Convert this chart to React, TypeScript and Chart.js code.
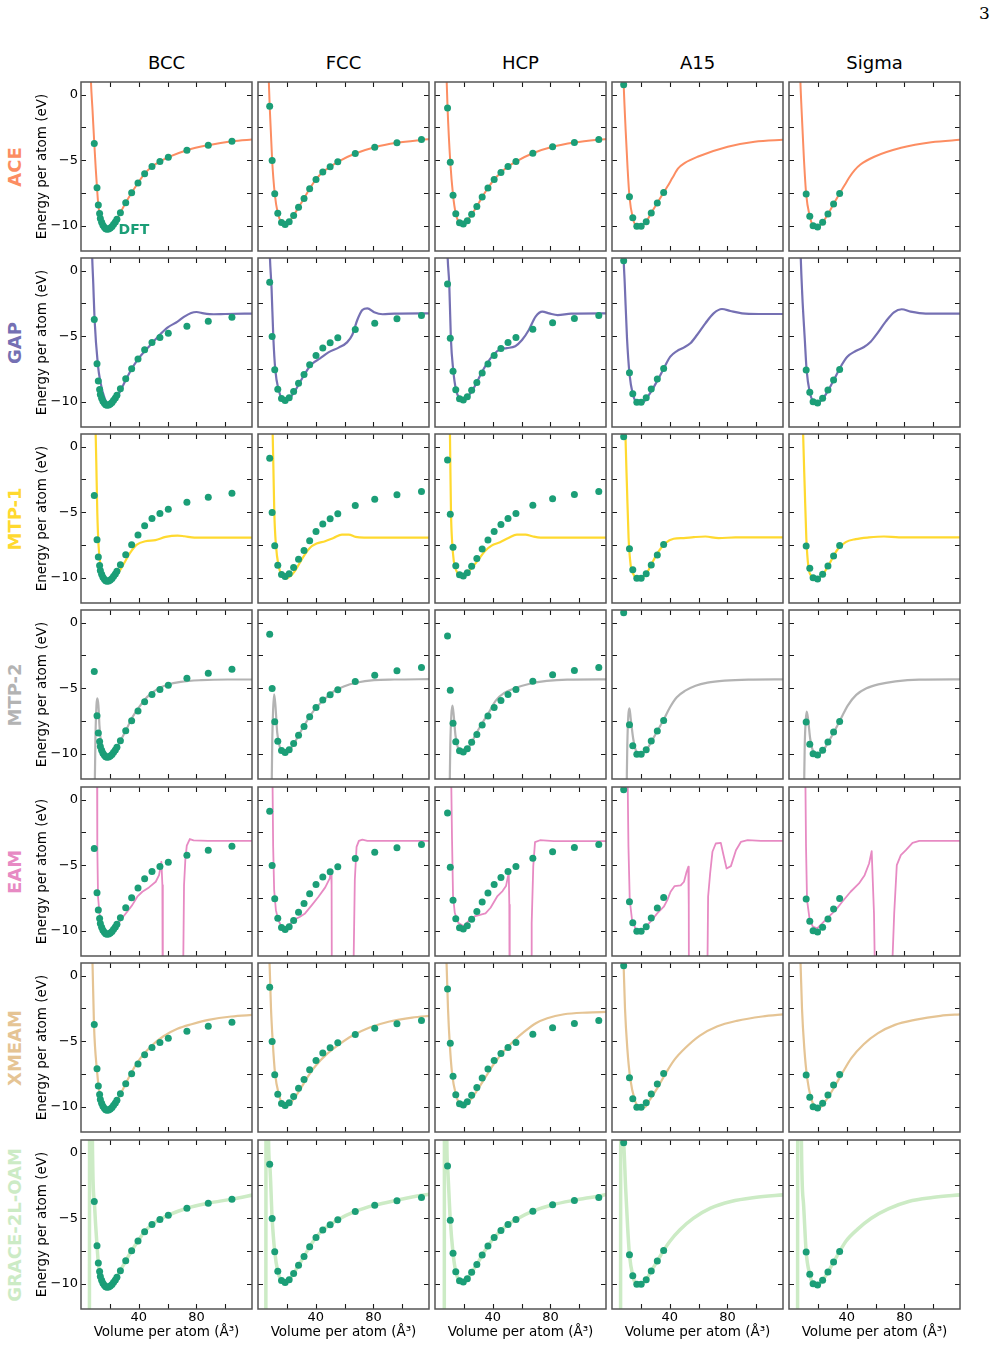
import React, { useEffect, useRef } from 'react';
import { Chart, registerables } from 'chart.js';

Chart.register(...registerables);
Chart.defaults.font.family = "'DejaVu Sans', sans-serif";

type Pt = [number, number];

// Columns: crystal structures; rows: interatomic potentials
const STRUCTURES = ['BCC', 'FCC', 'HCP', 'A15', 'Sigma'];
const MODELS = ['ACE', 'GAP', 'MTP-1', 'MTP-2', 'EAM', 'XMEAM', 'GRACE-2L-OAM'];
const MODEL_COLORS = ['#fc8d62', '#7570b3', '#ffd92f', '#b3b3b3', '#e78ac3', '#e5c494', '#ccebc5'];
const MODEL_LINE_WIDTHS = [2, 2.2, 2.2, 2.2, 1.8, 2.2, 3.5];
const MODEL_SMOOTH = [true, true, true, true, false, true, true];
const DFT_COLOR = '#1b9e77';

// Axis ranges and ticks
const X_MIN = 0;
const X_MAX = 118.5;
const Y_MIN = -11.9;
const Y_MAX = 0.96;
const X_TICKS = [20, 40, 60, 80, 100];
const X_LABELED = [40, 80];
const Y_TICKS = [-10, -7.5, -5, -2.5, 0];
const Y_LABELED = [-10, -5, 0];

// DFT reference energy-volume points: [volume (Å³), energy (eV/atom)]
const DFT_BCC: Pt[] = [
  [9.2, -3.72], [11.1, -7.09], [12.0, -8.4], [12.9, -9.04], [13.4, -9.42], [14.3, -9.72],
  [15.2, -9.95], [16.2, -10.1], [17.1, -10.2], [18.0, -10.25], [19.2, -10.23], [20.3, -10.15],
  [21.5, -10.03], [22.6, -9.87], [23.8, -9.7], [24.9, -9.49], [27.3, -8.98], [31.0, -8.23],
  [35.1, -7.47], [39.5, -6.73], [44.1, -6.02], [49.2, -5.47], [54.7, -5.09], [60.5, -4.76],
  [73.4, -4.23], [88.2, -3.85], [104.6, -3.54],
];
const DFT_FCC: Pt[] = [
  [8.1, -0.88], [9.8, -5.01], [11.6, -7.54], [13.7, -9.03], [16.3, -9.74], [18.8, -9.89],
  [21.6, -9.67], [24.7, -9.19], [28.1, -8.58], [31.9, -7.9], [35.8, -7.16], [40.2, -6.45],
  [44.9, -5.89], [50.0, -5.49], [55.3, -5.11], [67.4, -4.48], [80.9, -4.0], [96.3, -3.67],
  [113.3, -3.42],
];
const DFT_HCP: Pt[] = [
  [8.7, -1.01], [10.6, -5.14], [12.5, -7.65], [14.4, -9.06], [17.0, -9.75], [19.6, -9.85],
  [22.4, -9.59], [25.4, -9.11], [29.0, -8.51], [32.7, -7.8], [36.7, -7.11], [41.0, -6.46],
  [45.7, -5.92], [50.6, -5.47], [56.1, -5.09], [67.8, -4.46], [81.5, -3.97], [96.6, -3.65],
  [113.5, -3.42],
];
const DFT_A15: Pt[] = [
  [8.1, 0.76], [12.1, -7.77], [14.4, -9.37], [17.2, -10.02], [20.2, -10.02], [23.7, -9.67],
  [27.2, -9.01], [31.4, -8.25], [35.8, -7.44],
];
const DFT_SIGMA: Pt[] = [
  [11.9, -7.57], [14.4, -9.26], [16.7, -9.97], [19.8, -10.07], [23.3, -9.72], [27.0, -9.09],
  [30.9, -8.33], [35.1, -7.52],
];

// ACE
const ACE_BCC: Pt[] = [
  [6.4, 3.0], [6.9, 1.0], [8.0, -1.2], [9.2, -3.7], [10.2, -5.6], [11.1, -7.1], [12.0, -8.4],
  [13.0, -9.1], [14.5, -9.72], [16.3, -10.1], [18.1, -10.25], [20.0, -10.18], [22.5, -9.9],
  [25.0, -9.45], [27.3, -8.98], [31.0, -8.23], [35.1, -7.47], [39.5, -6.73], [44.1, -6.02],
  [49.2, -5.47], [54.7, -5.09], [60.5, -4.76], [73.4, -4.23], [88.2, -3.85], [104.6, -3.55],
  [120, -3.4],
];
const ACE_FCC: Pt[] = [
  [7.0, 3.0], [7.5, 1.0], [8.1, -0.88], [9.8, -5.0], [11.6, -7.54], [13.7, -9.03], [16.3, -9.74],
  [18.8, -9.89], [21.6, -9.67], [24.7, -9.19], [28.1, -8.58], [31.9, -7.9], [35.8, -7.16],
  [40.2, -6.45], [44.9, -5.89], [50.0, -5.49], [55.3, -5.11], [67.4, -4.48], [80.9, -4.0],
  [96.3, -3.67], [113.3, -3.45], [120, -3.38],
];
const ACE_HCP: Pt[] = [
  [7.6, 3.0], [8.1, 1.0], [8.7, -1.01], [10.6, -5.14], [12.5, -7.65], [14.4, -9.06], [17.0, -9.75],
  [19.6, -9.85], [22.4, -9.59], [25.4, -9.11], [29.0, -8.51], [32.7, -7.8], [36.7, -7.11],
  [41.0, -6.46], [45.7, -5.92], [50.6, -5.47], [56.1, -5.09], [67.8, -4.46], [81.5, -3.97],
  [96.6, -3.65], [113.5, -3.43], [120, -3.37],
];
const ACE_A15: Pt[] = [
  [7.5, 3.0], [8.1, 0.76], [9.5, -2.8], [10.8, -5.6], [12.1, -7.77], [14.4, -9.37], [17.2, -10.02],
  [20.2, -10.02], [23.7, -9.67], [27.2, -9.01], [31.4, -8.25], [35.8, -7.44], [38.6, -6.96],
  [41.9, -6.33], [46.0, -5.6], [50.5, -5.2], [59.3, -4.73], [80.2, -3.97], [98.8, -3.59],
  [120, -3.43],
];
const ACE_SIGMA: Pt[] = [
  [7.4, 3.0], [7.9, 1.0], [9.0, -1.8], [10.3, -4.8], [11.9, -7.57], [14.4, -9.26], [16.7, -9.97],
  [19.8, -10.07], [23.3, -9.72], [27.0, -9.09], [30.9, -8.33], [35.1, -7.52], [38.5, -6.9],
  [41.6, -6.33], [45.5, -5.75], [49.5, -5.32], [59.1, -4.73], [77.7, -4.05], [98.6, -3.62],
  [120, -3.43],
];

// GAP
const GAP_BCC: Pt[] = [
  [7.3, 3.0], [7.7, 1.2], [8.5, -1.0], [9.4, -3.7], [11.7, -7.18], [13.4, -8.45], [16.4, -9.72],
  [19.5, -10.28], [22.3, -10.1], [25.8, -9.47], [29.3, -8.7], [34.0, -7.69], [39.9, -6.68],
  [47.0, -5.79], [54.0, -4.95], [59.9, -4.34], [66.9, -3.88], [71.6, -3.5], [76.3, -3.22],
  [80.0, -3.15], [85.0, -3.25], [92.0, -3.32], [100.0, -3.3], [120, -3.27],
];
const GAP_FCC: Pt[] = [
  [7.8, 3.0], [8.2, 1.2], [9.4, -1.35], [10.6, -5.03], [12.0, -7.56], [14.3, -9.09], [16.7, -9.77],
  [19.5, -9.92], [22.3, -9.67], [25.6, -9.16], [29.3, -8.45], [33.1, -7.74], [37.1, -7.13],
  [43.0, -6.68], [48.8, -6.22], [55.9, -5.86], [61.7, -5.46], [65.3, -4.9], [68.8, -3.76],
  [72.3, -3.0], [75.8, -2.87], [80.5, -3.17], [86.4, -3.32], [94.6, -3.27], [120, -3.25],
];
const GAP_HCP: Pt[] = [
  [8.3, 3.0], [8.7, 1.2], [9.9, -1.09], [11.0, -5.15], [12.7, -7.64], [14.6, -9.09], [16.9, -9.72],
  [19.7, -9.9], [22.8, -9.59], [26.3, -9.04], [29.8, -8.32], [33.3, -7.56], [36.9, -6.93],
  [40.8, -6.37], [45.1, -5.99], [49.8, -5.9], [55.6, -5.75], [60.3, -5.28], [65.0, -4.52],
  [69.7, -3.5], [74.4, -3.12], [79.1, -3.25], [85.0, -3.38], [94.4, -3.27], [120, -3.25],
];
const GAP_A15: Pt[] = [
  [7.8, 2.0], [8.1, 0.8], [8.8, -0.9], [10.4, -5.15], [12.2, -7.94], [14.3, -9.34], [17.3, -10.05],
  [20.8, -10.1], [23.6, -9.77], [27.7, -9.09], [32.3, -8.2], [36.5, -7.31], [40.4, -6.55],
  [45.0, -6.12], [49.7, -5.86], [54.3, -5.53], [58.9, -4.9], [64.7, -4.01], [70.4, -3.25],
  [76.2, -2.92], [82.0, -3.07], [90.1, -3.25], [101.6, -3.3], [120, -3.3],
];
const GAP_SIGMA: Pt[] = [
  [7.7, 3.0], [8.0, 1.5], [9.2, -1.85], [10.9, -5.15], [12.2, -7.56], [14.3, -9.21], [17.3, -9.97],
  [20.3, -10.03], [23.6, -9.72], [27.3, -9.09], [31.4, -8.25], [35.8, -7.31], [40.4, -6.55],
  [46.2, -6.12], [52.0, -5.81], [56.6, -5.41], [61.2, -4.77], [67.0, -3.88], [72.7, -3.17],
  [78.1, -2.94], [84.3, -3.12], [94.7, -3.27], [120, -3.27],
];

// MTP-1
const MTP1_BCC: Pt[] = [
  [9.8, 3.0], [10.1, 1.3], [10.6, -1.22], [11.3, -5.04], [12.2, -7.58], [13.6, -9.11],
  [15.7, -9.87], [18.8, -10.25], [22.3, -10.08], [25.8, -9.62], [29.3, -8.98], [34.0, -8.09],
  [38.7, -7.46], [44.6, -7.2], [51.6, -7.12], [58.7, -6.87], [66.9, -6.77], [71.6, -6.82],
  [78.6, -6.92], [92.7, -6.92], [120, -6.92],
];
const MTP1_FCC: Pt[] = [
  [9.8, 3.0], [10.1, 1.3], [10.6, -1.22], [11.3, -5.04], [12.4, -7.46], [14.3, -9.11],
  [16.7, -9.8], [19.5, -10.05], [22.3, -9.87], [25.4, -9.49], [28.9, -8.85], [32.4, -8.22],
  [35.9, -7.71], [40.6, -7.38], [46.5, -7.2], [52.3, -6.95], [58.2, -6.69], [62.9, -6.69],
  [67.6, -6.87], [73.5, -6.92], [120, -6.92],
];
const MTP1_HCP: Pt[] = [
  [10.1, 3.0], [10.3, 1.5], [10.7, -2.0], [11.1, -5.1], [11.9, -7.3], [13.0, -8.7], [14.6, -9.4],
  [17.0, -9.82], [19.6, -9.9], [22.4, -9.62], [26.8, -9.06], [31.0, -8.47], [34.5, -7.96],
  [39.2, -7.53], [45.1, -7.28], [50.9, -6.95], [56.8, -6.69], [62.7, -6.69], [67.4, -6.82],
  [73.2, -6.92], [120, -6.92],
];
const MTP1_A15: Pt[] = [
  [8.9, 3.0], [9.2, 1.3], [10.4, -3.16], [11.5, -6.96], [12.9, -8.99], [15.0, -9.75],
  [18.0, -10.13], [20.8, -10.0], [24.2, -9.62], [27.7, -8.86], [32.3, -7.97], [37.0, -7.34],
  [42.7, -7.01], [49.7, -6.96], [56.6, -6.89], [64.7, -6.84], [73.9, -6.96], [85.5, -6.91],
  [120, -6.91],
];
const MTP1_SIGMA: Pt[] = [
  [9.4, 3.0], [9.7, 1.3], [10.9, -3.16], [12.0, -6.96], [13.4, -9.11], [15.7, -9.87],
  [18.5, -10.13], [21.2, -9.95], [24.9, -9.49], [28.9, -8.73], [33.5, -7.85], [39.3, -7.27],
  [46.2, -7.04], [55.4, -6.91], [65.8, -6.84], [76.2, -6.91], [120, -6.91],
];

// MTP-2
const MTP2_BCC: Pt[] = [
  [9.3, -16], [9.6, -12.0], [10.0, -8.86], [10.7, -6.33], [11.3, -5.77], [12.1, -6.33],
  [12.8, -7.85], [13.9, -9.11], [15.8, -9.87], [18.1, -10.25], [20.9, -10.13], [23.9, -9.75],
  [27.4, -8.99], [31.6, -8.1], [35.5, -7.22], [40.1, -6.46], [45.9, -5.65], [52.9, -5.06],
  [59.9, -4.73], [69.1, -4.51], [83.1, -4.38], [101.6, -4.33], [120, -4.33],
];
const MTP2_FCC: Pt[] = [
  [9.3, -16], [9.6, -11.5], [9.9, -8.86], [10.5, -6.58], [11.2, -5.45], [12.1, -6.33],
  [13.3, -8.35], [15.2, -9.49], [17.5, -9.87], [20.3, -9.82], [24.0, -9.37], [28.0, -8.61],
  [31.9, -7.85], [36.1, -7.09], [40.8, -6.41], [46.6, -5.77], [52.4, -5.24], [59.4, -4.86],
  [68.8, -4.56], [80.4, -4.38], [94.4, -4.33], [120, -4.3],
];
const MTP2_HCP: Pt[] = [
  [10.0, -16], [10.3, -11.5], [10.6, -9.34], [11.3, -7.07], [12.1, -6.31], [13.0, -7.07],
  [14.2, -8.59], [16.1, -9.6], [18.9, -9.9], [22.0, -9.72], [25.5, -9.09], [29.1, -8.33],
  [33.1, -7.58], [37.4, -6.82], [42.1, -5.93], [48.0, -5.35], [55.1, -5.0], [65.7, -4.65],
  [77.5, -4.44], [91.7, -4.34], [120, -4.32],
];
const MTP2_A15: Pt[] = [
  [10.0, -16], [10.3, -11.5], [10.6, -9.34], [11.3, -7.07], [12.1, -6.52], [13.0, -7.32],
  [14.7, -8.84], [17.0, -9.85], [20.1, -10.05], [23.2, -9.8], [27.2, -9.09], [31.2, -8.28],
  [35.5, -7.45], [40.2, -6.44], [44.9, -5.68], [50.8, -5.18], [57.9, -4.8], [66.2, -4.57],
  [78.0, -4.42], [94.6, -4.34], [120, -4.32],
];
const MTP2_SIGMA: Pt[] = [
  [10.2, -16], [10.6, -11.5], [10.9, -9.34], [11.6, -7.45], [12.3, -6.77], [13.2, -7.32],
  [14.7, -8.84], [17.0, -9.85], [19.9, -10.05], [22.9, -9.85], [27.0, -9.14], [31.2, -8.33],
  [35.9, -7.32], [40.7, -6.31], [46.6, -5.5], [53.7, -5.0], [61.9, -4.7], [73.8, -4.47],
  [90.3, -4.34], [120, -4.32],
];

// EAM
const EAM_BCC: Pt[] = [
  [11.1, 3.0], [11.2, 1.0], [11.4, -3.59], [11.8, -7.39], [12.8, -8.66], [14.6, -9.54],
  [16.9, -10.05], [19.3, -10.23], [21.6, -10.13], [23.9, -9.8], [27.4, -9.16], [32.0, -8.53],
  [35.5, -8.03], [39.0, -7.39], [42.5, -7.01], [47.1, -6.68], [51.8, -6.25], [54.1, -5.75],
  [55.7, -4.73], [56.4, -6.5], [56.7, -20], [70.7, -20], [70.9, -12.0], [71.4, -6.5],
  [72.3, -4.6], [73.3, -3.5], [75.4, -3.0], [78.0, -3.1], [88.0, -3.14], [120, -3.14],
];
const EAM_FCC: Pt[] = [
  [10.0, 3.0], [10.1, 1.0], [10.5, -3.59], [11.2, -6.89], [12.4, -8.41], [14.0, -9.16],
  [16.3, -9.67], [18.6, -9.8], [22.1, -9.47], [25.6, -9.11], [29.1, -8.91], [32.6, -8.66],
  [37.3, -8.03], [41.9, -7.39], [46.6, -6.68], [49.7, -6.0], [50.6, -5.37], [51.0, -6.5],
  [51.3, -20], [66.0, -20], [66.3, -12.0], [67.1, -6.1], [68.3, -3.6], [69.9, -3.14],
  [72.3, -3.04], [75.8, -3.14], [120, -3.14],
];
const EAM_HCP: Pt[] = [
  [11.2, 3.0], [11.3, 1.0], [11.8, -3.04], [12.5, -7.34], [13.7, -8.61], [16.1, -9.37],
  [19.6, -9.62], [23.2, -9.24], [27.9, -8.86], [35.0, -8.66], [38.5, -8.23], [43.3, -7.34],
  [46.8, -6.96], [49.2, -6.58], [51.1, -5.57], [51.5, -8.0], [51.8, -20], [66.7, -20],
  [67.0, -9.4], [68.1, -5.06], [69.3, -3.24], [72.8, -3.09], [82.3, -3.16], [120, -3.16],
];
const EAM_A15: Pt[] = [
  [10.8, 3.0], [10.9, 1.0], [11.4, -3.59], [12.3, -7.65], [13.9, -9.16], [16.2, -9.8],
  [19.3, -9.92], [22.5, -9.8], [26.7, -9.29], [31.3, -8.66], [35.9, -8.15], [38.3, -7.65],
  [40.6, -7.01], [43.4, -6.58], [47.6, -6.53], [49.9, -6.25], [51.7, -5.49], [52.9, -5.11],
  [53.2, -8.0], [53.4, -20], [66.0, -20], [66.2, -12.0], [66.6, -7.39], [68.0, -5.62],
  [69.6, -3.97], [71.9, -3.34], [75.4, -3.29], [77.3, -4.23], [79.4, -5.24], [82.4, -5.06],
  [85.9, -3.85], [89.3, -3.22], [94.0, -3.09], [103.2, -3.14], [120, -3.14],
];
const EAM_SIGMA: Pt[] = [
  [11.3, 3.0], [11.4, 1.0], [11.8, -3.59], [12.5, -7.65], [14.2, -9.04], [16.5, -9.67],
  [19.5, -9.8], [23.0, -9.42], [27.6, -8.91], [32.3, -8.41], [36.9, -7.77], [42.7, -7.01],
  [48.5, -6.38], [52.4, -5.75], [55.5, -4.86], [57.3, -3.92], [58.9, -8.66], [59.4, -12.2],
  [59.6, -20], [71.5, -20], [71.7, -12.2], [72.9, -8.66], [74.7, -4.99], [77.5, -4.23],
  [81.0, -3.85], [85.6, -3.29], [90.3, -3.14], [100.7, -3.14], [120, -3.14],
];

// XMEAM
const XMEAM_BCC: Pt[] = [
  [7.6, 2.0], [7.9, 1.32], [9.0, -3.75], [11.0, -7.16], [13.0, -9.06], [14.9, -9.95],
  [17.7, -10.33], [20.8, -10.2], [24.7, -9.57], [29.5, -8.56], [35.3, -7.29], [41.2, -6.28],
  [49.1, -5.32], [56.9, -4.63], [66.8, -4.05], [76.6, -3.7], [88.4, -3.37], [104.1, -3.11],
  [120, -2.98],
];
const XMEAM_FCC: Pt[] = [
  [7.6, 2.0], [7.9, 1.32], [9.0, -2.48], [10.2, -5.01], [11.8, -7.42], [14.5, -9.06],
  [17.3, -9.77], [20.4, -9.82], [24.4, -9.44], [29.1, -8.68], [34.2, -7.75], [40.1, -6.84],
  [47.1, -6.03], [55.8, -5.27], [65.6, -4.56], [77.4, -3.95], [91.1, -3.49], [106.8, -3.19],
  [120, -3.05],
];
const XMEAM_HCP: Pt[] = [
  [7.6, 2.0], [7.9, 1.32], [9.0, -2.48], [10.2, -5.14], [11.8, -7.42], [14.5, -9.06],
  [17.7, -9.82], [20.8, -9.9], [24.7, -9.44], [29.5, -8.68], [34.6, -7.8], [40.5, -6.78],
  [47.1, -5.82], [54.2, -5.01], [62.1, -4.25], [69.9, -3.62], [77.8, -3.24], [89.5, -2.94],
  [105.3, -2.81], [120, -2.76],
];
const XMEAM_A15: Pt[] = [
  [7.6, 2.0], [7.9, 1.32], [9.0, -2.48], [10.6, -5.52], [12.6, -7.8], [15.7, -9.44],
  [18.9, -10.03], [22.4, -10.03], [26.3, -9.44], [31.4, -8.56], [37.3, -7.42], [43.2, -6.41],
  [51.1, -5.47], [60.9, -4.56], [72.7, -3.87], [86.4, -3.44], [104.1, -3.11], [120, -2.94],
];
const XMEAM_SIGMA: Pt[] = [
  [7.6, 2.0], [7.9, 1.32], [9.0, -2.48], [10.6, -5.52], [12.6, -7.8], [15.3, -9.32],
  [18.5, -10.0], [21.6, -10.03], [25.5, -9.52], [31.0, -8.56], [36.9, -7.42], [43.2, -6.28],
  [51.8, -5.22], [61.7, -4.38], [73.4, -3.75], [87.2, -3.37], [104.9, -3.06], [120, -2.94],
];

// GRACE-2L-OAM
const GRACE_BCC: Pt[] = [
  [5.8, -20], [6.1, 20], [7.4, 20], [7.9, 1.0], [9.2, -3.72], [10.2, -5.6], [11.1, -7.1],
  [12.0, -8.4], [13.0, -9.1], [14.5, -9.72], [16.3, -10.1], [18.1, -10.25], [20.0, -10.18],
  [22.5, -9.9], [25.0, -9.45], [27.3, -8.98], [31.0, -8.23], [35.1, -7.47], [39.5, -6.73],
  [44.1, -6.02], [49.2, -5.47], [54.7, -5.09], [60.5, -4.76], [73.4, -4.23], [88.2, -3.85],
  [104.6, -3.54], [120, -3.2],
];
const GRACE_FCC: Pt[] = [
  [5.4, -20], [5.7, 20], [6.8, 20], [7.3, 1.0], [8.1, -0.88], [9.8, -5.0], [11.6, -7.54],
  [13.7, -9.03], [16.3, -9.74], [18.8, -9.89], [21.6, -9.67], [24.7, -9.19], [28.1, -8.58],
  [31.9, -7.9], [35.8, -7.16], [40.2, -6.45], [44.9, -5.89], [50.0, -5.49], [55.3, -5.11],
  [67.4, -4.48], [80.9, -4.0], [96.3, -3.62], [113.3, -3.25], [120, -3.15],
];
const GRACE_HCP: Pt[] = [
  [6.4, -20], [6.7, 20], [7.7, 20], [8.2, 1.0], [8.7, -1.01], [10.6, -5.14], [12.5, -7.65],
  [14.4, -9.06], [17.0, -9.75], [19.6, -9.85], [22.4, -9.59], [25.4, -9.11], [29.0, -8.51],
  [32.7, -7.8], [36.7, -7.11], [41.0, -6.46], [45.7, -5.92], [50.6, -5.47], [56.1, -5.09],
  [67.8, -4.46], [81.5, -3.97], [96.6, -3.62], [113.5, -3.3], [120, -3.15],
];
const GRACE_A15: Pt[] = [
  [5.9, -20], [6.2, 20], [7.4, 20], [7.9, 1.5], [8.1, 0.76], [9.5, -2.8], [10.8, -5.6],
  [12.1, -7.77], [14.4, -9.37], [17.2, -10.02], [20.2, -10.02], [23.7, -9.67], [27.2, -9.01],
  [31.4, -8.25], [35.8, -7.44], [40.0, -6.76], [47.1, -5.87], [56.5, -4.99], [68.3, -4.23],
  [82.4, -3.72], [98.9, -3.42], [120, -3.2],
];
const GRACE_SIGMA: Pt[] = [
  [5.9, -20], [6.2, 20], [8.0, 20], [8.6, 1.0], [10.0, -3.8], [11.9, -7.57], [14.4, -9.26],
  [16.7, -9.97], [19.8, -10.07], [23.3, -9.72], [27.0, -9.09], [30.9, -8.33], [35.1, -7.52],
  [39.3, -6.76], [47.6, -5.82], [57.0, -4.99], [68.8, -4.28], [82.9, -3.72], [99.4, -3.42],
  [120, -3.2],
];

const DFT_SETS: Pt[][] = [DFT_BCC, DFT_FCC, DFT_HCP, DFT_A15, DFT_SIGMA];
const CURVES: Pt[][][] = [
  [ACE_BCC, ACE_FCC, ACE_HCP, ACE_A15, ACE_SIGMA],
  [GAP_BCC, GAP_FCC, GAP_HCP, GAP_A15, GAP_SIGMA],
  [MTP1_BCC, MTP1_FCC, MTP1_HCP, MTP1_A15, MTP1_SIGMA],
  [MTP2_BCC, MTP2_FCC, MTP2_HCP, MTP2_A15, MTP2_SIGMA],
  [EAM_BCC, EAM_FCC, EAM_HCP, EAM_A15, EAM_SIGMA],
  [XMEAM_BCC, XMEAM_FCC, XMEAM_HCP, XMEAM_A15, XMEAM_SIGMA],
  [GRACE_BCC, GRACE_FCC, GRACE_HCP, GRACE_A15, GRACE_SIGMA],
];

// Page layout (plot-area boxes in page pixels)
const COL_LEFT = [81, 258, 435, 612, 789];
const ROW_TOP = [82, 258, 434, 610, 787, 963, 1140];
const PLOT_W = 171;
const PLOT_H = 169;
const PAD = 12;
const AXIS_W = 50;
const AXIS_H = 36;
const TICK_LEN = 5;

const fmtNum = (v: number) => (v < 0 ? '\u2212' + Math.abs(v) : String(v));

// Boxed frame with inward tick marks on all four sides
const frameTicks = {
  id: 'frameTicks',
  afterDatasetsDraw(chart: any) {
    const { ctx, chartArea: a, scales } = chart;
    const xs = scales.x;
    const ys = scales.y;
    ctx.save();
    ctx.strokeStyle = '#1a1a1a';
    ctx.lineWidth = 1.1;
    ctx.beginPath();
    for (const t of xs.ticks) {
      const px = Math.round(xs.getPixelForValue(t.value)) + 0.5;
      ctx.moveTo(px, a.top);
      ctx.lineTo(px, a.top + TICK_LEN);
      ctx.moveTo(px, a.bottom);
      ctx.lineTo(px, a.bottom - TICK_LEN);
    }
    for (const t of ys.ticks) {
      const py = Math.round(ys.getPixelForValue(t.value)) + 0.5;
      ctx.moveTo(a.left, py);
      ctx.lineTo(a.left + TICK_LEN, py);
      ctx.moveTo(a.right, py);
      ctx.lineTo(a.right - TICK_LEN, py);
    }
    ctx.stroke();
    ctx.strokeStyle = '#555555';
    ctx.lineWidth = 1.5;
    ctx.strokeRect(a.left, a.top, a.right - a.left, a.bottom - a.top);
    ctx.restore();
  },
};

// In-plot text annotation placed in data coordinates
const dataLabel = {
  id: 'dataLabel',
  afterDatasetsDraw(chart: any, _args: any, opts: any) {
    if (!opts || !opts.text) return;
    const { ctx, scales } = chart;
    ctx.save();
    ctx.font = "bold 14px 'DejaVu Sans', sans-serif";
    ctx.fillStyle = opts.color;
    ctx.textAlign = 'left';
    ctx.textBaseline = 'middle';
    ctx.fillText(opts.text, scales.x.getPixelForValue(opts.x), scales.y.getPixelForValue(opts.y));
    ctx.restore();
  },
};

function Panel({ row, col }: { row: number; col: number }) {
  const ref = useRef<HTMLCanvasElement | null>(null);
  const firstCol = col === 0;
  const lastRow = row === MODELS.length - 1;
  const padL = firstCol ? AXIS_W : PAD;
  const padB = lastRow ? AXIS_H : PAD;
  const w = padL + PLOT_W + PAD;
  const h = PAD + PLOT_H + padB;
  const left = COL_LEFT[col] - padL;
  const top = ROW_TOP[row] - PAD;

  useEffect(() => {
    const canvas = ref.current;
    if (!canvas) return;
    const smooth = MODEL_SMOOTH[row];
    const chart = new Chart(canvas, {
      type: 'scatter',
      data: {
        datasets: [
          {
            data: DFT_SETS[col].map(([x, y]) => ({ x, y })),
            showLine: false,
            pointRadius: 3.5,
            pointHoverRadius: 3.5,
            pointBackgroundColor: DFT_COLOR,
            pointBorderWidth: 0,
            pointBorderColor: DFT_COLOR,
          },
          {
            data: CURVES[row][col].map(([x, y]) => ({ x, y })),
            showLine: true,
            borderColor: MODEL_COLORS[row],
            borderWidth: MODEL_LINE_WIDTHS[row],
            pointRadius: 0,
            pointHoverRadius: 0,
            tension: 0,
            cubicInterpolationMode: smooth ? 'monotone' : 'default',
            capBezierPoints: false,
            borderJoinStyle: 'round',
            clip: 0,
          } as any,
        ],
      },
      options: {
        animation: false,
        responsive: false,
        devicePixelRatio: 1,
        events: [],
        layout: { padding: { top: PAD, right: PAD, left: 0, bottom: 0 } },
        plugins: {
          legend: { display: false },
          tooltip: { enabled: false },
          dataLabel: row === 0 && col === 0 ? { text: 'DFT', x: 26.0, y: -10.3, color: DFT_COLOR } : {},
        } as any,
        scales: {
          x: {
            type: 'linear',
            min: X_MIN,
            max: X_MAX,
            grid: { display: false, drawTicks: false },
            border: { display: false },
            afterBuildTicks: (s: any) => {
              s.ticks = X_TICKS.map((v) => ({ value: v }));
            },
            afterFit: (s: any) => {
              s.height = padB;
            },
            ticks: {
              display: lastRow,
              autoSkip: false,
              maxRotation: 0,
              padding: 1,
              color: '#000',
              font: { size: 13 },
              callback: (v: any) => (X_LABELED.includes(Number(v)) ? fmtNum(Number(v)) : ''),
            },
            title: {
              display: lastRow,
              text: 'Volume per atom (Å³)',
              color: '#000',
              font: { size: 13.5 },
              padding: { top: 0, bottom: 4 },
            },
          },
          y: {
            type: 'linear',
            min: Y_MIN,
            max: Y_MAX,
            grid: { display: false, drawTicks: false },
            border: { display: false },
            afterBuildTicks: (s: any) => {
              s.ticks = Y_TICKS.map((v) => ({ value: v }));
            },
            afterFit: (s: any) => {
              s.width = padL;
            },
            ticks: {
              display: firstCol,
              autoSkip: false,
              padding: 3,
              color: '#000',
              font: { size: 13 },
              callback: (v: any) => (Y_LABELED.includes(Number(v)) ? fmtNum(Number(v)) : ''),
            },
            title: {
              display: firstCol,
              text: 'Energy per atom (eV)',
              color: '#000',
              font: { size: 13.5 },
              padding: { top: 3, bottom: 0 },
            },
          },
        },
      } as any,
      plugins: [frameTicks, dataLabel],
    });
    return () => chart.destroy();
  }, [row, col, padL, padB]);

  return (
    <canvas
      ref={ref}
      width={w}
      height={h}
      style={{ position: 'absolute', left, top, width: w, height: h }}
    />
  );
}

export default function App() {
  return (
    <div
      style={{
        position: 'absolute',
        left: 0,
        top: 0,
        width: 997,
        height: 1347,
        background: '#ffffff',
        fontFamily: "'DejaVu Sans', sans-serif",
        overflow: 'hidden',
      }}
    >
      <div
        style={{
          position: 'absolute',
          left: 979,
          top: 3,
          fontFamily: "'DejaVu Serif', 'Liberation Serif', serif",
          fontSize: 17,
          lineHeight: '20px',
        }}
      >
        3
      </div>
      {STRUCTURES.map((s, c) => (
        <div
          key={s}
          style={{
            position: 'absolute',
            left: COL_LEFT[c],
            width: PLOT_W,
            top: 52,
            textAlign: 'center',
            fontSize: 18,
            lineHeight: '22px',
          }}
        >
          {s}
        </div>
      ))}
      {MODELS.map((m, r) => (
        <div
          key={m}
          style={{
            position: 'absolute',
            left: 15,
            top: ROW_TOP[r] + PLOT_H / 2,
            transform: 'translate(-50%, -50%) rotate(-90deg)',
            whiteSpace: 'nowrap',
            fontWeight: 'bold',
            fontSize: 18,
            lineHeight: '22px',
            color: MODEL_COLORS[r],
          }}
        >
          {m}
        </div>
      ))}
      {MODELS.map((m, r) => STRUCTURES.map((s, c) => <Panel key={m + s} row={r} col={c} />))}
    </div>
  );
}
